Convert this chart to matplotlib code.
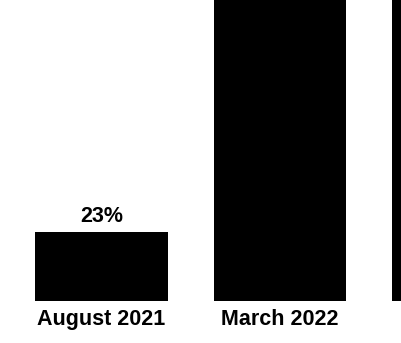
import matplotlib
matplotlib.use("Agg")
import matplotlib.pyplot as plt

categories = ["August 2021", "March 2022", ""]
values = [23, 100, 100]
labels = ["23%", "", ""]

fig = plt.figure(figsize=(4.01, 3.43), dpi=100)
ax = fig.add_axes([0, 42/343, 1, 301/343])
x = list(range(len(categories)))
ax.bar(x, values, width=0.745, color="black")
for xi, v, lab in zip(x, values, labels):
    if lab:
        ax.text(xi, v + 1.5, lab, ha="center", va="bottom",
                fontsize=15.5, fontweight="bold", family="Liberation Sans")
ax.set_xticks(x)
ax.set_xticklabels(categories, fontsize=15.5, fontweight="bold", family="Liberation Sans")
ax.tick_params(axis="x", length=0, pad=5.5)
ax.set_yticks([])
ax.set_xlim(-101.5/178.5, (401-101.5)/178.5)
ax.set_ylim(0, 100)
for s in ax.spines.values():
    s.set_visible(False)
fig.savefig("out.png", dpi=100)
